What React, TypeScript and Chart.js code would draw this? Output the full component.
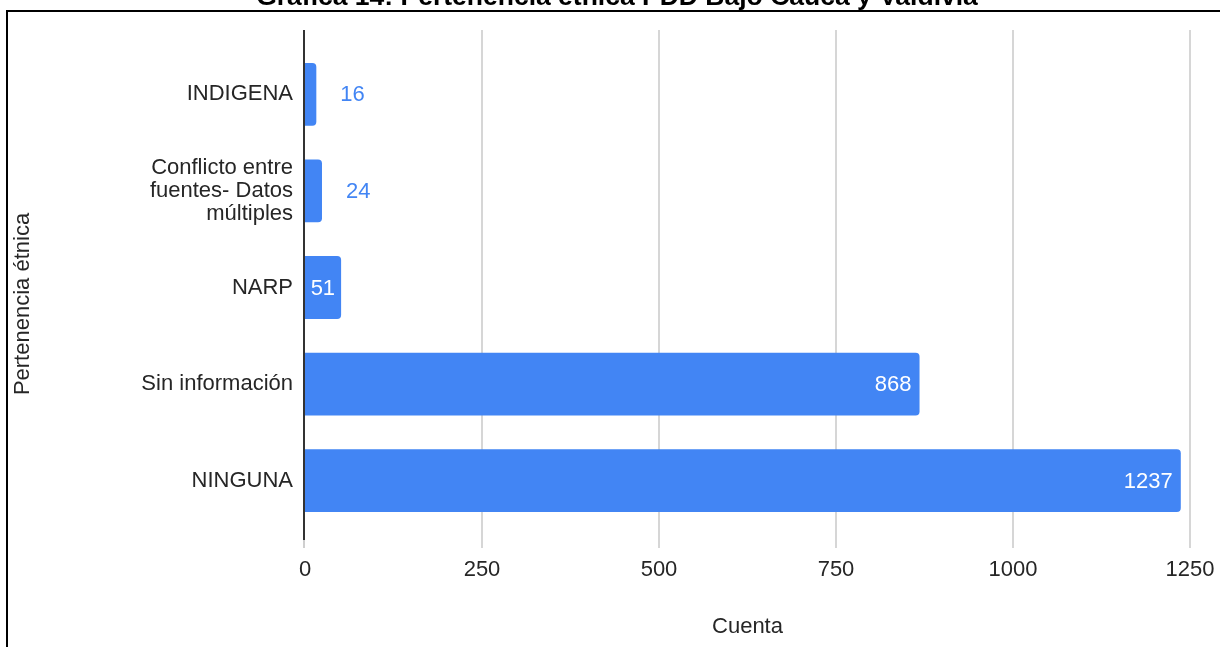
import React, { useEffect, useRef } from 'react';
import { Chart, registerables } from 'chart.js';

Chart.register(...registerables);

const chartTitle = 'Gráfica 14: Pertenencia étnica PDD Bajo Cauca y Valdivia';
const yAxisTitle = 'Pertenencia étnica';
const xAxisTitle = 'Cuenta';
const categories: (string | string[])[] = [
  'INDIGENA',
  ['Conflicto entre', 'fuentes- Datos', 'múltiples'],
  'NARP',
  'Sin información',
  'NINGUNA',
];
const values = [16, 24, 51, 868, 1237];
const xMin = 0;
const xMax = 1250;
const xStep = 250;

const FONT = '"Liberation Sans", Arial, sans-serif';
const BAR_COLOR = '#4285F4';
const TEXT_COLOR = '#262626';

const decorPlugin = {
  id: 'decor',
  beforeDatasetsDraw(chart: any) {
    const { ctx, chartArea, scales } = chart;
    const x = scales.x;
    ctx.save();
    ctx.lineWidth = 2;
    ctx.strokeStyle = '#d6d6d6';
    x.ticks.forEach((t: any) => {
      if (t.value === xMin) return;
      const px = Math.round(x.getPixelForValue(t.value));
      ctx.beginPath();
      ctx.moveTo(px, chartArea.top - 16);
      ctx.lineTo(px, chartArea.bottom + 19);
      ctx.stroke();
    });
    ctx.restore();
  },
  afterDatasetsDraw(chart: any) {
    const { ctx, chartArea, scales } = chart;
    const x = scales.x;
    ctx.save();
    const zx = Math.round(x.getPixelForValue(xMin)) - 1;
    ctx.strokeStyle = '#333333';
    ctx.lineWidth = 2;
    ctx.beginPath();
    ctx.moveTo(zx, chartArea.top - 16);
    ctx.lineTo(zx, chartArea.bottom + 11);
    ctx.stroke();
    ctx.strokeStyle = '#cfcfcf';
    ctx.beginPath();
    ctx.moveTo(zx, chartArea.bottom + 11);
    ctx.lineTo(zx, chartArea.bottom + 19);
    ctx.stroke();

    ctx.font = `22px ${FONT}`;
    ctx.textBaseline = 'middle';
    const meta = chart.getDatasetMeta(0);
    meta.data.forEach((bar: any, i: number) => {
      const { x: bx, y: by, base } = bar.getProps(['x', 'y', 'base'], true);
      const txt = String(values[i]);
      const w = ctx.measureText(txt).width;
      const barLen = bx - base;
      if (w + 8 <= barLen) {
        ctx.fillStyle = '#ffffff';
        ctx.textAlign = 'right';
        ctx.fillText(txt, bx - (barLen < 60 ? 6 : 8), by + 1);
      } else {
        ctx.fillStyle = BAR_COLOR;
        ctx.textAlign = 'left';
        ctx.fillText(txt, bx + 24, by + 1);
      }
    });
    ctx.restore();
  },
  afterDraw(chart: any) {
    const { ctx } = chart;
    ctx.save();
    ctx.strokeStyle = '#000000';
    ctx.lineWidth = 2;
    ctx.beginPath();
    ctx.moveTo(7, 700);
    ctx.lineTo(7, 11);
    ctx.lineTo(1300, 11);
    ctx.stroke();
    ctx.fillStyle = '#000000';
    ctx.font = `bold 26.5px ${FONT}`;
    ctx.textAlign = 'center';
    ctx.textBaseline = 'alphabetic';
    ctx.fillText(chartTitle, 617, 5);
    ctx.fillStyle = TEXT_COLOR;
    ctx.font = `22px ${FONT}`;
    ctx.translate(23, 304);
    ctx.rotate(-Math.PI / 2);
    ctx.textAlign = 'center';
    ctx.textBaseline = 'middle';
    ctx.fillText(yAxisTitle, 0, 0);
    ctx.restore();
  },
};

export default function App() {
  const ref = useRef<HTMLCanvasElement | null>(null);

  useEffect(() => {
    document.body.style.margin = '0';
    const canvas = ref.current;
    if (!canvas) return;
    const chart = new Chart(canvas, {
      type: 'bar',
      data: {
        labels: categories as any,
        datasets: [
          {
            data: values,
            backgroundColor: BAR_COLOR,
            borderRadius: 4,
            borderSkipped: 'start',
            categoryPercentage: 1,
            barPercentage: 0.65,
          },
        ],
      },
      options: {
        indexAxis: 'y',
        responsive: false,
        animation: false,
        devicePixelRatio: 1,
        layout: { padding: { top: 46, right: 30, left: 0, bottom: 0 } },
        plugins: {
          legend: { display: false },
          tooltip: { enabled: false },
          title: { display: false },
        },
        scales: {
          x: {
            type: 'linear',
            min: xMin,
            max: xMax,
            grid: { display: false, drawTicks: false },
            border: { display: false },
            ticks: {
              stepSize: xStep,
              padding: 28,
              color: TEXT_COLOR,
              font: { family: FONT, size: 22, lineHeight: 1.2 },
              callback: (v: any) => String(v),
            },
            title: {
              display: true,
              text: xAxisTitle,
              color: TEXT_COLOR,
              font: { family: FONT, size: 22, lineHeight: 1.2 },
              padding: { top: 0, bottom: 7 },
            },
            afterFit(scale: any) {
              scale.height = 118;
              scale.paddingLeft = 0;
              scale.paddingRight = 0;
            },
          },
          y: {
            type: 'category',
            grid: { display: false, drawTicks: false },
            border: { display: false },
            ticks: {
              padding: 12,
              color: TEXT_COLOR,
              font: { family: FONT, size: 22, lineHeight: 1.03 },
              autoSkip: false,
            },
            afterFit(scale: any) {
              scale.width = 305;
              scale.paddingTop = 0;
              scale.paddingBottom = 0;
            },
          },
        },
      },
      plugins: [decorPlugin],
    });
    return () => chart.destroy();
  }, []);

  return (
    <canvas
      ref={ref}
      width={1220}
      height={647}
      style={{ display: 'block', width: 1220, height: 647 }}
    />
  );
}
